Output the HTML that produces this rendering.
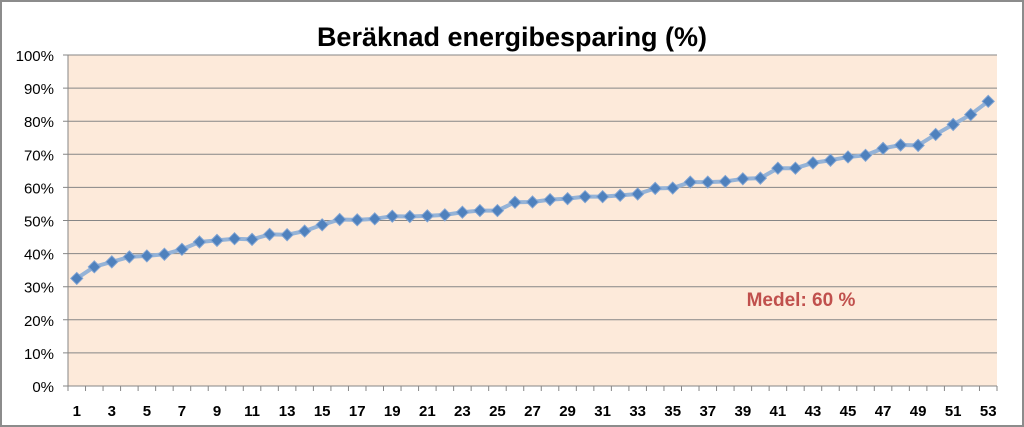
<!DOCTYPE html>
<html><head><meta charset="utf-8"><style>
body{margin:0;background:#fff}
svg{display:block;font-family:"Liberation Sans",Arial,sans-serif}
</style></head><body>
<svg id="chart" width="1024" height="427" viewBox="0 0 1024 427">
<rect x="1" y="1" width="1022" height="425" fill="#fff" stroke="#8c8c8c" stroke-width="2"/>
<text x="512" y="46" text-anchor="middle" font-size="27" font-weight="bold" fill="#000">Beräknad energibesparing (%)</text>
<rect x="68" y="55" width="929" height="331" fill="#FDEADA"/>
<g id="grid"></g><g id="series"></g>
<text x="801" y="306" text-anchor="middle" font-size="19" font-weight="bold" fill="#C0504D">Medel: 60 %</text>
</svg>
<script>
const categories = Array.from({length:53},(_,i)=>String(i+1));
const savings = [32.5,36,37.5,39,39.3,39.8,41.3,43.5,44,44.5,44.3,45.8,45.7,46.8,48.7,50.3,50.2,50.5,51.3,51.2,51.4,51.7,52.5,53,53,55.5,55.6,56.3,56.6,57.2,57.2,57.6,58,59.7,59.8,61.6,61.6,61.8,62.6,62.8,65.8,65.8,67.4,68.2,69.2,69.7,71.8,72.8,72.7,76,79,82,86];
const yTicks = [0,10,20,30,40,50,60,70,80,90,100];
const NS='http://www.w3.org/2000/svg';
const L=68,R=997,T=55,B=386;
const bw=(R-L)/categories.length;
const x=i=>L+bw*(i+0.5);
const y=v=>B-(v/100)*(B-T);
const grid=document.getElementById('grid'), ser=document.getElementById('series');
function mk(tag,attrs,parent){const e=document.createElementNS(NS,tag);for(const k in attrs)e.setAttribute(k,attrs[k]);parent.appendChild(e);return e;}
yTicks.forEach(t=>{
  const g=mk('line',{x1:L-5,x2:R,y1:y(t),y2:y(t),stroke:'#868686','stroke-width':1},grid);
  
  
  const tx=mk('text',{x:L-14,y:y(t)+6,'text-anchor':'end','font-size':15,fill:'#000'},grid);
  tx.textContent=t+'%';
  
  
});
const ax=mk('line',{x1:L,x2:L,y1:T,y2:B,stroke:'#868686'},grid);


for(let i=0;i<=categories.length;i++){
  const tk=mk('line',{x1:L+bw*i,x2:L+bw*i,y1:B,y2:B+5,stroke:'#868686'},grid);
  
  
}
categories.forEach((c,i)=>{
  if(i%2) return;
  const tx=mk('text',{x:x(i),y:416,'text-anchor':'middle','font-size':15,'font-weight':'bold',fill:'#000'},grid);
  tx.textContent=c;
  
  
});
const pts=savings.map((v,i)=>x(i)+','+y(v)).join(' ');
const pl=mk('polyline',{points:pts,fill:'none',stroke:'#95B3D7','stroke-width':4,'stroke-linejoin':'round'},ser);


savings.forEach((v,i)=>{
  const cx=x(i),cy=y(v),s=6;
  const p=mk('polygon',{points:`${cx},${cy-s} ${cx+s},${cy} ${cx},${cy+s} ${cx-s},${cy}`,fill:'#4F81BD',stroke:'#7FA3D3','stroke-width':1},ser);
  
  
});
</script>
</body></html>
